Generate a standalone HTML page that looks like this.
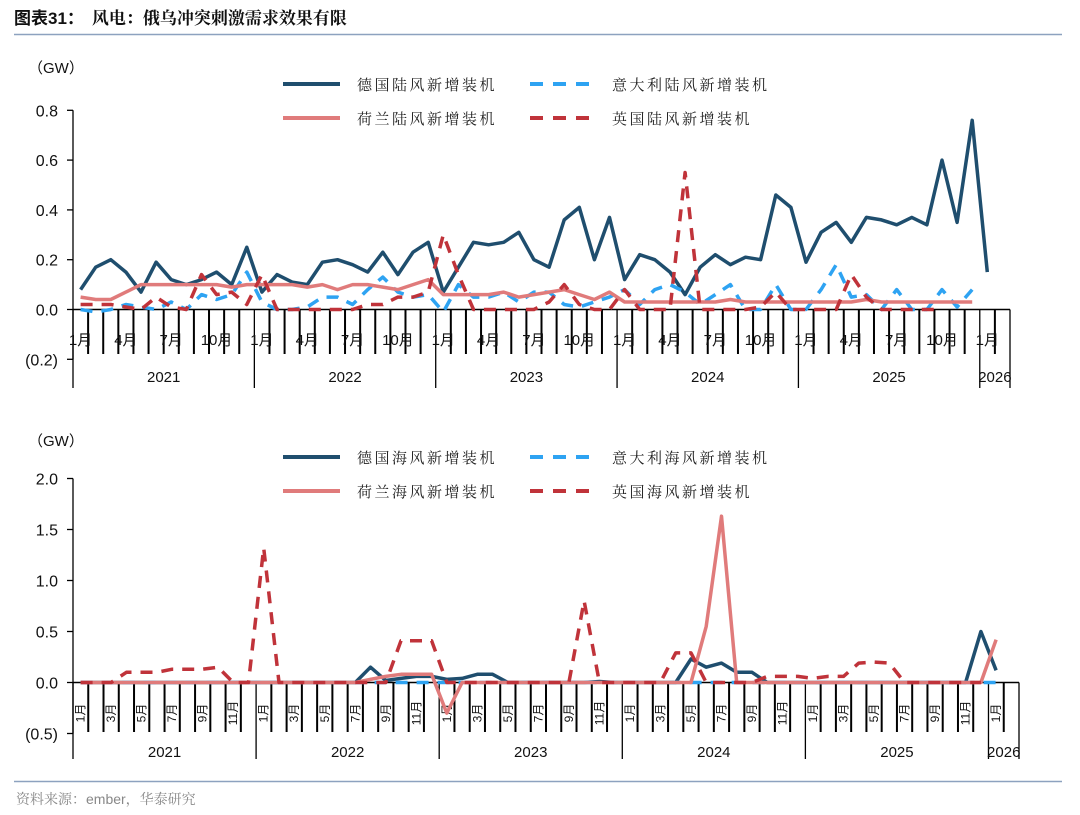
<!DOCTYPE html>
<html><head><meta charset="utf-8">
<style>
body{margin:0;background:#fff;width:1080px;height:815px;overflow:hidden;font-family:"Liberation Sans","Noto Sans CJK SC",sans-serif;}
svg{position:absolute;left:0;top:0}
</style></head>
<body>
<svg id="c" width="1080" height="815" xmlns="http://www.w3.org/2000/svg">
<text x="14" y="24" font-size="17" font-weight="bold" fill="#111"><tspan font-family="Liberation Sans,Noto Sans CJK SC,sans-serif">图表31：</tspan><tspan dx="8" font-family="Liberation Serif,Noto Serif CJK SC,serif">风电：俄乌冲突刺激需求效果有限</tspan></text>
<line x1="14" y1="34.5" x2="1062" y2="34.5" stroke="#8da2bf" stroke-width="1.5"/>
<line x1="14" y1="781.5" x2="1062" y2="781.5" stroke="#8da2bf" stroke-width="1.5"/>
<text x="16" y="804" font-size="14" fill="#888" font-family="Liberation Sans,Noto Serif CJK SC,serif">资料来源：ember，华泰研究</text>
</svg>
<script>
// ---------- top chart data (onshore, GW), Jan 2021 .. Jan 2026 ----------
const topGermany=[.08,.17,.20,.15,.07,.19,.12,.10,.12,.15,.10,.25, .07,.14,.11,.10,.19,.20,.18,.15,.23,.14,.23,.27, .07,.17,.27,.26,.27,.31,.20,.17,.36,.41,.20,.37, .12,.22,.20,.15,.06,.17,.22,.18,.21,.20,.46,.41, .19,.31,.35,.27,.37,.36,.34,.37,.34,.60,.35,.76, .15];
const topItaly=[.00,-.01,.00,.02,.01,.00,.03,.00,.06,.04,.06,.15, .03,.00,.00,.01,.05,.05,.02,.08,.13,.07,.05,.06, -.01,.10,.05,.05,.07,.03,.07,.07,.02,.01,.03,.05, .08,.02,.08,.10,.07,.02,.06,.10,.00,.00,.10,.00, .00,.08,.18,.05,.06,.00,.08,.00,.00,.08,.01,.08];
const topNetherlands=[.05,.04,.04,.07,.10,.10,.10,.10,.10,.10,.09,.10, .10,.10,.10,.09,.10,.08,.10,.10,.09,.08,.10,.12, .06,.06,.06,.06,.07,.05,.06,.07,.08,.06,.04,.07, .03,.03,.03,.03,.03,.03,.03,.04,.03,.03,.03,.03, .03,.03,.03,.03,.04,.03,.03,.03,.03,.03,.03,.03];
const topUK=[.02,.02,.02,.01,.00,.05,.01,.00,.14,.06,.07,.02, .14,.00,.00,.00,.00,.00,.00,.02,.02,.05,.05,.07, .30,.14,.00,.00,.00,.00,.00,.03,.10,.02,.00,.00, .08,.00,.00,.00,.55,.00,.00,.00,.00,.01,.07,.00, .00,.00,.00,.14,.05,.00,.00,.00,.00,.00];
const topTicks=[0.8,0.6,0.4,0.2,0.0,-0.2];
const topTickLabels=["0.8","0.6","0.4","0.2","0.0","(0.2)"];
// ---------- bottom chart data (offshore, GW) ----------
const botGermany=[0,0,0,0,0,0,0,0,0,0,0,0, 0,0,0,0,0,0,0,.15,.02,.04,.06,.06, .03,.04,.08,.08,0,0,0,0,0,0,.01,0, 0,0,0,0,.23,.15,.19,.10,.10,0,0,0, 0,0,0,0,0,0,0,0,0,0,0,.50, .12];
const botItaly=[0,0,0,0,0,0,0,0,0,0,0,0, 0,0,0,0,0,0,0,0,0,0,0,0, 0,0,0,0,0,0,0,0,0,0,0,0, 0,0,0,0,0,0,0,0,0,0,0,0, 0,0,0,0,0,0,0,0,0,0,0,0, 0];
const botNetherlands=[0,0,0,0,0,0,0,0,0,0,0,0, 0,0,0,0,0,0,0,.03,.06,.08,.08,.08, -.30,0,0,0,0,0,0,0,0,0,0,0, 0,0,0,0,0,.55,1.63,0,0,0,0,0, 0,0,0,0,0,0,0,0,0,0,0,0, .42];
const botUK=[0,0,0,.10,.10,.10,.13,.13,.13,.15,0,0, 1.32,0,0,0,0,0,0,0,0,.41,.41,.41, 0,0,0,0,0,0,0,0,0,.80,0,0, 0,0,0,.29,.29,0,0,0,0,.06,.06,.06, .04,.06,.06,.19,.20,.19,0,0,0,0,0,0];
const botTicks=[2.0,1.5,1.0,0.5,0.0,-0.5];
const botTickLabels=["2.0","1.5","1.0","0.5","0.0","(0.5)"];
const years=["2021","2022","2023","2024","2025","2026"];

const NS="http://www.w3.org/2000/svg";
const svg=document.getElementById('c');
function mk(tag,attrs,parent){const e=document.createElementNS(NS,tag);for(const k in attrs)e.setAttribute(k,attrs[k]);(parent||svg).appendChild(e);return e;}
const FONT="Liberation Sans,Noto Sans CJK SC,sans-serif";
const SERIF="Liberation Serif,Noto Serif CJK SC,serif";

function chart(cfg){
  const g=mk('g',{});
  
  
  const x0=73, slots=62, mw=(cfg.xEnd-x0)/slots;
  const xs=i=>x0+(i+0.5)*mw;
  const ys=v=>cfg.y0-v*cfg.scale;
  const ax=mk('line',{x1:x0,y1:ys(cfg.ticks[0]),x2:x0,y2:ys(cfg.ticks[cfg.ticks.length-1]),stroke:'#000','stroke-width':1.3},g);
  
  
  cfg.ticks.forEach((t,i)=>{
    const tk=mk('line',{x1:x0-6,x2:x0,y1:ys(t),y2:ys(t),stroke:'#000','stroke-width':1.3},g);
    
    
    const tl=mk('text',{x:x0-15,y:ys(t)+6,'font-size':16,'text-anchor':'end',fill:'#111','font-family':FONT},g);
    tl.textContent=cfg.tickLabels[i];
    
    
  });
  const un=mk('text',{x:28,y:cfg.unitY,'font-size':15,fill:'#111','font-family':FONT},g);
  un.textContent='（GW）';
  
  
  const xa=mk('line',{x1:x0,x2:cfg.xEnd,y1:cfg.y0,y2:cfg.y0,stroke:'#000','stroke-width':1.5},g);
  
  
  for(let i=0;i<=slots;i++){
    const isYear=(i%12===0)||i===slots;
    const tk=mk('line',{x1:x0+i*mw,x2:x0+i*mw,y1:cfg.y0,y2:isYear?cfg.yearBottom:cfg.monthBottom,stroke:'#000','stroke-width':isYear?1.3:2},g);
    
    
  }
  for(let i=0;i<slots;i++){
    const m=i%12+1;
    if((m-1)%cfg.labelEvery!==0)continue;
    let t;
    if(cfg.rotate){
      t=mk('text',{x:0,y:0,'font-size':12,'text-anchor':'middle',fill:'#111','font-family':FONT,transform:`translate(${xs(i)+4},${cfg.labelY}) rotate(-90)`},g);
    }else{
      t=mk('text',{x:xs(i),y:cfg.labelY,'font-size':15,'text-anchor':'middle',fill:'#111','font-family':FONT},g);
    }
    t.textContent=m+'月';
    
    
  }
  years.forEach((y,k)=>{
    const cx=k<5?x0+(k*12+6)*mw:x0+60*mw+mw;
    const t=mk('text',{x:cx,y:cfg.yearY,'font-size':15,'text-anchor':'middle',fill:'#111','font-family':FONT},g);
    t.textContent=y;
    
    
  });
  cfg.series.forEach(s=>{
    const pts=s.data.map((v,i)=>xs(i).toFixed(1)+','+ys(v).toFixed(1)).join(' ');
    const p=mk('polyline',{points:pts,fill:'none',stroke:s.color,'stroke-width':3.5,'stroke-linejoin':'round','stroke-dasharray':s.dash?'12,9':'none'},g);
    
    
  });
  cfg.series.forEach((s,k)=>{
    const col=k%2, row=Math.floor(k/2);
    const lx=col?530:283, ly=cfg.legendY+row*34;
    const l=mk('line',{x1:lx,x2:lx+(col?60:57),y1:ly,y2:ly,stroke:s.color,'stroke-width':4,'stroke-dasharray':s.dash?'13,10':'none'},g);
    
    
    const t=mk('text',{x:col?612:357,y:ly+6,'font-size':15,fill:'#222','letter-spacing':'2.5','font-family':SERIF},g);
    t.textContent=s.label;
    
    
  });
}
const C1='#1f4e6e',C2='#2ea3f2',C3='#e07b7b',C4='#c0333a';
chart({name:'onshore-chart',y0:309.5,scale:249,xEnd:1010,ticks:topTicks,tickLabels:topTickLabels,unitY:73,
  monthBottom:354,yearBottom:388,labelY:345,labelEvery:3,rotate:false,yearY:382,legendY:84,
  series:[{key:'germany-onshore',label:'德国陆风新增装机',data:topGermany,color:C1},
          {key:'italy-onshore',label:'意大利陆风新增装机',data:topItaly,color:C2,dash:true},
          {key:'netherlands-onshore',label:'荷兰陆风新增装机',data:topNetherlands,color:C3},
          {key:'uk-onshore',label:'英国陆风新增装机',data:topUK,color:C4,dash:true}]});
chart({name:'offshore-chart',y0:682.5,scale:102,xEnd:1019,ticks:botTicks,tickLabels:botTickLabels,unitY:446,
  monthBottom:732,yearBottom:759,labelY:713,labelEvery:2,rotate:true,yearY:757,legendY:457,
  series:[{key:'germany-offshore',label:'德国海风新增装机',data:botGermany,color:C1},
          {key:'italy-offshore',label:'意大利海风新增装机',data:botItaly,color:C2,dash:true},
          {key:'netherlands-offshore',label:'荷兰海风新增装机',data:botNetherlands,color:C3},
          {key:'uk-offshore',label:'英国海风新增装机',data:botUK,color:C4,dash:true}]});
</script>
</body></html>
